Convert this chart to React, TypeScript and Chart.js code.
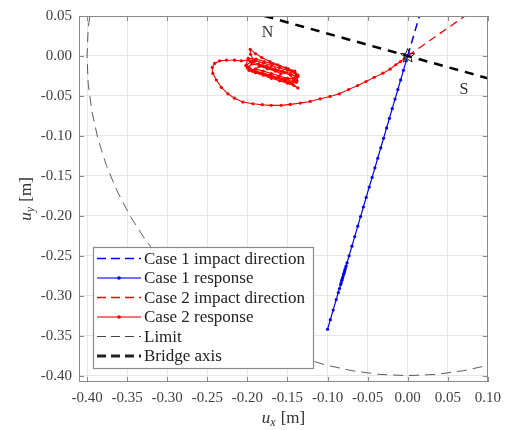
import React, { useEffect, useRef } from 'react';
import { Chart, registerables } from 'chart.js';

Chart.register(...registerables);

// ---- axes ----
const xRange = [-0.41, 0.1];
const yRange = [-0.408, 0.05];
const xTicks = [-0.4, -0.35, -0.3, -0.25, -0.2, -0.15, -0.1, -0.05, 0.0, 0.05, 0.1];
const xTickLabels = ['-0.40', '-0.35', '-0.30', '-0.25', '-0.20', '-0.15', '-0.10', '-0.05', '0.00', '0.05', '0.10'];
const yTicks = [-0.4, -0.35, -0.3, -0.25, -0.2, -0.15, -0.1, -0.05, 0.0, 0.05];
const yTickLabels = ['-0.40', '-0.35', '-0.30', '-0.25', '-0.20', '-0.15', '-0.10', '-0.05', '0.00', '0.05'];
const xTitle = ['u', 'x', ' [m]'];
const yTitle = ['u', 'y', ' [m]'];

// ---- series ----
const seriesLabels = [
  'Case 1 impact direction',
  'Case 1 response',
  'Case 2 impact direction',
  'Case 2 response',
  'Limit',
  'Bridge axis',
];

const case1ImpactX = [0, 0.0146];
const case1ImpactY = [0, 0.05];

const case1RespX = [0, -0.0018, -0.0053, -0.0088, -0.0123, -0.0158, -0.0193, -0.0228, -0.0263, -0.0301, -0.0336, -0.0374, -0.0409, -0.0444, -0.048, -0.0518, -0.0553, -0.0588, -0.0623, -0.0661, -0.0696, -0.0731, -0.0757, -0.0778, -0.0795, -0.081, -0.0822, -0.083, -0.0819, -0.0801, -0.0784, -0.0769, -0.0789, -0.0813, -0.0836, -0.0851, -0.0865, -0.0892, -0.093, -0.0965, -0.1];
const case1RespY = [0, -0.006, -0.018, -0.03, -0.042, -0.054, -0.066, -0.078, -0.09, -0.103, -0.115, -0.128, -0.14, -0.152, -0.164, -0.177, -0.189, -0.201, -0.213, -0.226, -0.238, -0.25, -0.259, -0.266, -0.272, -0.277, -0.281, -0.284, -0.28, -0.274, -0.268, -0.263, -0.27, -0.278, -0.286, -0.291, -0.296, -0.305, -0.318, -0.33, -0.342];

const case2ImpactX = [0, 0.0714];
const case2ImpactY = [0, 0.05];

const case2RespX = [
  0, -0.004, -0.009, -0.015, -0.022, -0.031, -0.0418, -0.052, -0.0625, -0.0737, -0.0853, -0.0969, -0.1093, -0.1218, -0.134, -0.1466, -0.1578, -0.1703, -0.1815, -0.193, -0.2056, -0.216, -0.2243, -0.2325, -0.2387, -0.243, -0.2437, -0.2408, -0.2346, -0.2262, -0.216, -0.2076,
  -0.199, -0.19, -0.18, -0.17, -0.16, -0.15, -0.141, -0.137, -0.139, -0.148, -0.158, -0.168, -0.178, -0.188, -0.197, -0.201,
  -0.196, -0.186, -0.176, -0.166, -0.156, -0.146, -0.14, -0.142, -0.152, -0.162, -0.172, -0.182, -0.192, -0.198,
  -0.192, -0.196, -0.1964, -0.19, -0.182, -0.172, -0.162, -0.152, -0.144, -0.139, -0.14, -0.146, -0.137, -0.142, -0.15, -0.16, -0.17, -0.18, -0.19, -0.198, -0.202,
  -0.199, -0.189, -0.179, -0.169, -0.159, -0.149, -0.141, -0.137, -0.138, -0.144, -0.154, -0.164, -0.174, -0.184, -0.194, -0.2,
  -0.194, -0.184, -0.174, -0.164, -0.154, -0.146, -0.143, -0.15, -0.16, -0.17, -0.18, -0.19,
  -0.185, -0.175, -0.165, -0.158,
];
const case2RespY = [
  0, -0.003, -0.007, -0.011, -0.0165, -0.0215, -0.0268, -0.032, -0.037, -0.042, -0.0474, -0.0507, -0.0536, -0.0569, -0.059, -0.0606, -0.0618, -0.0618, -0.061, -0.0598, -0.0577, -0.0528, -0.0474, -0.0392, -0.0301, -0.0218, -0.0144, -0.0094, -0.0061, -0.0053, -0.0053, -0.0061,
  -0.005, -0.006, -0.009, -0.012, -0.015, -0.018, -0.021, -0.026, -0.033, -0.032, -0.029, -0.026, -0.023, -0.02, -0.017, -0.012,
  -0.007, -0.01, -0.013, -0.016, -0.019, -0.022, -0.026, -0.031, -0.029, -0.027, -0.024, -0.021, -0.018, -0.014,
  -0.006, 0.002, 0.0083, 0.003, -0.002, -0.007, -0.011, -0.015, -0.019, -0.024, -0.03, -0.034, -0.04, -0.037, -0.034, -0.031, -0.028, -0.024, -0.021, -0.018, -0.012,
  -0.003, -0.004, -0.007, -0.01, -0.013, -0.016, -0.019, -0.024, -0.031, -0.035, -0.031, -0.028, -0.025, -0.022, -0.019, -0.015,
  -0.01, -0.012, -0.015, -0.018, -0.021, -0.024, -0.028, -0.028, -0.025, -0.022, -0.019, -0.016,
  -0.013, -0.016, -0.019, -0.022,
];

const limitX = [-0.3939, -0.3985, -0.4, -0.3985, -0.3939, -0.3864, -0.3759, -0.3625, -0.3464, -0.3277, -0.3064, -0.2828, -0.2571, -0.2294, -0.2, -0.169, -0.1368, -0.1035, -0.0695, -0.0349, 0, 0.0349, 0.0695, 0.1035, 0.1368];
const limitY = [0.0695, 0.0349, 0, -0.0349, -0.0695, -0.1035, -0.1368, -0.169, -0.2, -0.2294, -0.2571, -0.2828, -0.3064, -0.3277, -0.3464, -0.3625, -0.3759, -0.3864, -0.3939, -0.3985, -0.4, -0.3985, -0.3939, -0.3864, -0.3759];

const bridgeX = [-0.1786, 0.1];
const bridgeY = [0.05, -0.028];

const starX = [0];
const starY = [0];

const noteText = ['N', 'S'];
const noteX = [-0.175, 0.0703];
const noteY = [0.029, -0.0418];

const SERIF = "'Liberation Serif', 'Times New Roman', serif";

const pts = (xs: number[], ys: number[]) => xs.map((x, i) => ({ x, y: ys[i] }));

const legendStyles = [
  { color: '#0000ff', width: 1.5, dash: [9, 5], dot: false },
  { color: 'rgba(90,90,255,0.85)', width: 2, dash: [], dot: '#0000ff' },
  { color: '#ff0000', width: 1.5, dash: [9, 5], dot: false },
  { color: 'rgba(255,90,90,0.85)', width: 2, dash: [], dot: '#ff0000' },
  { color: '#444444', width: 1, dash: [9, 5], dot: false },
  { color: '#222222', width: 3, dash: [9, 5], dot: false },
];

function drawComposite(ctx: CanvasRenderingContext2D, parts: string[], cx: number, cy: number) {
  const mainFont = `italic 17px ${SERIF}`;
  const subFont = `italic 12px ${SERIF}`;
  const restFont = `17px ${SERIF}`;
  ctx.font = mainFont;
  const w1 = ctx.measureText(parts[0]).width;
  ctx.font = subFont;
  const w2 = ctx.measureText(parts[1]).width;
  ctx.font = restFont;
  const w3 = ctx.measureText(parts[2]).width;
  const total = w1 + w2 + 1 + w3;
  let x = cx - total / 2;
  ctx.textBaseline = 'alphabetic';
  ctx.textAlign = 'left';
  const base = cy + 5;
  ctx.font = mainFont;
  ctx.fillText(parts[0], x, base);
  x += w1;
  ctx.font = subFont;
  ctx.fillText(parts[1], x, base + 3);
  x += w2 + 1;
  ctx.font = restFont;
  ctx.fillText(parts[2], x, base);
}

const decorPlugin = {
  id: 'decor',
  afterDraw(chart: any) {
    const ctx: CanvasRenderingContext2D = chart.ctx;
    const { left, right, top, bottom } = chart.chartArea;
    const xs = chart.scales.x;
    const ys = chart.scales.y;
    ctx.save();

    // star marker
    for (let k = 0; k < starX.length; k++) {
      const cx = xs.getPixelForValue(starX[k]);
      const cy = ys.getPixelForValue(starY[k]);
      ctx.beginPath();
      for (let i = 0; i < 10; i++) {
        const r = i % 2 === 0 ? 7.5 : 3.2;
        const a = -Math.PI / 2 + (i * Math.PI) / 5;
        const px = cx + r * Math.cos(a);
        const py = cy + r * Math.sin(a);
        if (i === 0) ctx.moveTo(px, py);
        else ctx.lineTo(px, py);
      }
      ctx.closePath();
      ctx.strokeStyle = '#222';
      ctx.lineWidth = 1;
      ctx.setLineDash([]);
      ctx.stroke();
    }

    // notes N / S
    ctx.fillStyle = '#333';
    ctx.font = `16px ${SERIF}`;
    ctx.textAlign = 'center';
    ctx.textBaseline = 'middle';
    noteText.forEach((t, i) => {
      ctx.fillText(t, xs.getPixelForValue(noteX[i]), ys.getPixelForValue(noteY[i]));
    });

    // box and inward ticks
    ctx.strokeStyle = '#8a8a8a';
    ctx.lineWidth = 1;
    ctx.setLineDash([]);
    ctx.strokeRect(Math.round(left) + 0.5, Math.round(top) + 0.5, Math.round(right - left) - 1, Math.round(bottom - top) - 1);
    ctx.beginPath();
    xTicks.forEach((v) => {
      const px = Math.round(xs.getPixelForValue(v)) + 0.5;
      ctx.moveTo(px, bottom);
      ctx.lineTo(px, bottom - 5);
      ctx.moveTo(px, top);
      ctx.lineTo(px, top + 5);
    });
    yTicks.forEach((v) => {
      const py = Math.round(ys.getPixelForValue(v)) + 0.5;
      ctx.moveTo(left, py);
      ctx.lineTo(left + 5, py);
      ctx.moveTo(right, py);
      ctx.lineTo(right - 5, py);
    });
    ctx.stroke();

    // legend
    const lx = 93, ly = 247, lw = 220, lh = 121;
    ctx.fillStyle = '#ffffff';
    ctx.fillRect(lx, ly, lw, lh);
    ctx.strokeStyle = '#8a8a8a';
    ctx.lineWidth = 1.2;
    ctx.strokeRect(lx + 0.5, ly + 0.5, lw, lh);
    ctx.font = `17px ${SERIF}`;
    ctx.textAlign = 'left';
    ctx.textBaseline = 'middle';
    chart.data.datasets.forEach((ds: any, i: number) => {
      const st = legendStyles[i];
      const y = ly + 11.5 + i * 19.5;
      ctx.beginPath();
      ctx.strokeStyle = st.color;
      ctx.lineWidth = st.width;
      ctx.setLineDash(st.dash);
      ctx.moveTo(97, y);
      ctx.lineTo(141, y);
      ctx.stroke();
      ctx.setLineDash([]);
      if (st.dot) {
        ctx.beginPath();
        ctx.fillStyle = st.dot as string;
        ctx.arc(119, y, 1.8, 0, Math.PI * 2);
        ctx.fill();
      }
      ctx.fillStyle = '#222';
      ctx.fillText(ds.label, 144, y + 1);
    });

    // axis titles
    ctx.fillStyle = '#333';
    drawComposite(ctx, xTitle, (left + right) / 2, 418);
    ctx.save();
    ctx.translate(26, (top + bottom) / 2);
    ctx.rotate(-Math.PI / 2);
    drawComposite(ctx, yTitle, 0, 0);
    ctx.restore();

    ctx.restore();
  },
};

export default function App() {
  const ref = useRef<HTMLCanvasElement | null>(null);
  useEffect(() => {
    if (!ref.current) return;
    const chart = new Chart(ref.current, {
      type: 'scatter',
      data: {
        datasets: [
          {
            label: seriesLabels[0],
            data: pts(case1ImpactX, case1ImpactY),
            showLine: true,
            borderColor: '#0000ff',
            borderWidth: 1.5,
            borderDash: [8, 5],
            pointRadius: 0,
            order: 3,
          },
          {
            label: seriesLabels[1],
            data: pts(case1RespX, case1RespY),
            showLine: true,
            borderColor: '#0000ff',
            backgroundColor: '#0000ff',
            borderWidth: 1.2,
            pointRadius: 1.6,
            pointBorderWidth: 0,
            pointBackgroundColor: '#0000ff',
            order: 4,
          },
          {
            label: seriesLabels[2],
            data: pts(case2ImpactX, case2ImpactY),
            showLine: true,
            borderColor: '#ff0000',
            borderWidth: 1.3,
            borderDash: [8, 5],
            pointRadius: 0,
            order: 5,
          },
          {
            label: seriesLabels[3],
            data: pts(case2RespX, case2RespY),
            showLine: true,
            borderColor: '#ff0000',
            backgroundColor: '#ff0000',
            borderWidth: 1.1,
            pointRadius: 1.6,
            pointBorderWidth: 0,
            pointBackgroundColor: '#ff0000',
            order: 6,
          },
          {
            label: seriesLabels[4],
            data: pts(limitX, limitY),
            showLine: true,
            borderColor: '#333333',
            borderWidth: 0.8,
            borderDash: [10, 6],
            pointRadius: 0,
            order: 7,
          },
          {
            label: seriesLabels[5],
            data: pts(bridgeX, bridgeY),
            showLine: true,
            borderColor: '#000000',
            borderWidth: 2.5,
            borderDash: [9, 7],
            pointRadius: 0,
            order: 2,
          },
        ],
      },
      options: {
        responsive: false,
        maintainAspectRatio: false,
        animation: false,
        events: [],
        layout: { padding: { top: 13, right: 18, left: 0, bottom: 0 } },
        plugins: {
          legend: { display: false },
          tooltip: { enabled: false },
        },
        scales: {
          x: {
            type: 'linear',
            min: xRange[0],
            max: xRange[1],
            afterBuildTicks: (s: any) => {
              s.ticks = xTicks.map((v) => ({ value: v }));
            },
            afterFit: (s: any) => {
              s.height = 48;
            },
            ticks: {
              autoSkip: false,
              maxRotation: 0,
              padding: 7,
              color: '#404040',
              font: { family: SERIF, size: 15 },
              callback: (_v: any, i: number) => xTickLabels[i],
            },
            grid: { color: '#e6e6e6', drawTicks: false },
            border: { display: false },
          },
          y: {
            type: 'linear',
            min: yRange[0],
            max: yRange[1],
            afterBuildTicks: (s: any) => {
              s.ticks = yTicks.map((v) => ({ value: v }));
            },
            afterFit: (s: any) => {
              s.width = 79;
            },
            ticks: {
              autoSkip: false,
              padding: 7,
              color: '#404040',
              font: { family: SERIF, size: 15 },
              callback: (_v: any, i: number) => yTickLabels[i],
            },
            grid: { color: '#e6e6e6', drawTicks: false },
            border: { display: false },
          },
        },
      },
      plugins: [decorPlugin],
    } as any);
    return () => chart.destroy();
  }, []);
  return (
    <div style={{ position: 'fixed', left: 0, top: 0, width: 508, height: 430, background: '#fff' }}>
      <canvas ref={ref} width={508} height={430} style={{ display: 'block' }} />
    </div>
  );
}
